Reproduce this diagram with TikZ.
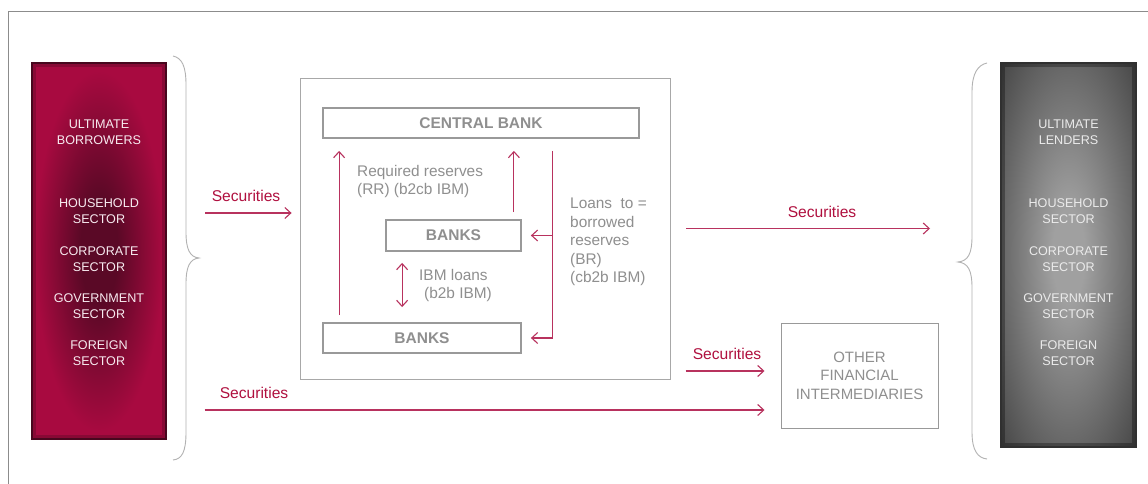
\documentclass[tikz,border=0pt]{standalone}
\usepackage{fontspec}
\setmainfont{Liberation Sans}
\usetikzlibrary{arrows.meta,calc}
\definecolor{crim}{HTML}{A80A40}
\definecolor{crimdark}{HTML}{5A0926}
\definecolor{arrowc}{HTML}{B8325E}
\definecolor{labc}{HTML}{B0103F}
\definecolor{txtgray}{HTML}{8F8F8F}
\definecolor{boxgray}{HTML}{999999}
\definecolor{frameg}{HTML}{8C8C8C}
\definecolor{dkg}{HTML}{454545}
\definecolor{ltg}{HTML}{A0A0A0}
\pgfdeclareradialshading{crimshade}{\pgfpoint{0bp}{0bp}}{color(0bp)=(crimdark); color(7bp)=(crimdark); color(24bp)=(crim); color(50bp)=(crim)}
\pgfdeclareradialshading{grayshade}{\pgfpoint{0bp}{0bp}}{color(0bp)=(ltg); color(6bp)=(ltg); color(36bp)=(dkg); color(50bp)=(dkg)}
\begin{document}
\begin{tikzpicture}[x=1pt,y=-1pt,
  arr/.style={draw=arrowc, line width=1.1pt, -{Straight Barb[length=6pt,width=11pt]}},
  darr/.style={draw=arrowc, line width=1.1pt, {Straight Barb[length=6pt,width=11pt]}-{Straight Barb[length=6pt,width=11pt]}},
  bankbox/.style={draw=boxgray, line width=1.8pt, fill=white, inner sep=0pt, font=\fontsize{15.5}{18}\selectfont\bfseries, text=txtgray},
  lab/.style={text=txtgray, font=\fontsize{15.4}{18.5}\selectfont, inner sep=0pt, align=left, anchor=north west},
  sec/.style={text=labc, font=\fontsize{15.6}{18}\selectfont, inner sep=0pt},
  sectxt/.style={align=center, font=\fontsize{12.6}{15.8}\selectfont, inner sep=0pt},
  brace/.style={draw=gray!60, line width=0.9pt},
  sidebox/.style={inner sep=0pt, line width=1.2pt}
]
\useasboundingbox (0,0) rectangle (1148,484);
\fill[white] (0,0) rectangle (1148,484);
% frame
\draw[frameg, line width=0.8pt] (8,484) -- (8,11.5) -- (1148,11.5);

% left box
\node[sidebox, shade, shading=crimshade, draw=crimdark!80!black, minimum width=134pt, minimum height=376pt] (borrow) at (99,251) {};
\draw[crimdark, opacity=0.4, line width=2.5pt] ($(borrow.north west)+(3,3)$) rectangle ($(borrow.south east)+(-3,-3)$);
\begin{scope}[every node/.style={sectxt, text=white!92!crim}]
\node (b1) at (99,132) {ULTIMATE\\BORROWERS};
\node (b2) at (99,211) {HOUSEHOLD\\SECTOR};
\node (b3) at (99,259) {CORPORATE\\SECTOR};
\node (b4) at (99,306) {GOVERNMENT\\SECTOR};
\node (b5) at (99,353) {FOREIGN\\SECTOR};
\end{scope}

% right box
\node[sidebox, shade, shading=grayshade, draw=dkg!70!black, minimum width=135pt, minimum height=384pt] (lend) at (1068.5,255) {};
\draw[black, opacity=0.3, line width=2.5pt] ($(lend.north west)+(3,3)$) rectangle ($(lend.south east)+(-3,-3)$);
\begin{scope}[every node/.style={sectxt, text=white!92!black}]
\node (l1) at (1068.5,132) {ULTIMATE\\LENDERS};
\node (l2) at (1068.5,211) {HOUSEHOLD\\SECTOR};
\node (l3) at (1068.5,259) {CORPORATE\\SECTOR};
\node (l4) at (1068.5,306) {GOVERNMENT\\SECTOR};
\node (l5) at (1068.5,353) {FOREIGN\\SECTOR};
\end{scope}

% braces
\draw[brace] (173,56) .. controls (182,58) and (186,66) .. (186,85) -- (186,232) .. controls (186,250) and (190,257) .. (199,258) .. controls (190,259) and (186,266) .. (186,284) -- (186,432) .. controls (186,452) and (182,459) .. (173,460);
\draw[brace] (987,63) .. controls (978,65) and (972,73) .. (972,92) -- (972,236) .. controls (972,254) and (968,261) .. (958,262) .. controls (968,263) and (972,270) .. (972,288) -- (972,432) .. controls (972,451) and (978,458) .. (987,459);

% banking system
\node[draw=boxgray!85, line width=0.8pt, minimum width=370pt, minimum height=301pt, inner sep=0pt] (sys) at (485,228.5) {};
\node[bankbox, minimum width=316pt, minimum height=30pt] (cb) at (481,123) {CENTRAL BANK};
\node[bankbox, minimum width=135pt, minimum height=31pt] (banks1) at (453.5,235.5) {BANKS};
\node[bankbox, minimum width=198pt, minimum height=30pt] (banks2) at (422,338) {BANKS};

\coordinate (u0) at ($(banks2.north west)+(17,-7)$);
\draw[arr] (u0) -- ($(u0 |- cb.south)+(0,12)$);
\coordinate (u1) at ($(banks1.north east)+(-8,-7)$);
\draw[arr] (u1) -- ($(u1 |- cb.south)+(0,12)$);
\coordinate (d1) at ($(banks1.south west)+(17,11)$);
\draw[darr] (d1) -- ($(d1 |- banks2.north)+(0,-15)$);
\coordinate (lt) at ($(cb.south west)+(230,12)$);
\draw[arr] (lt) |- ($(banks2.east)+(9,0)$);
\draw[arr] (lt |- banks1.east) -- ($(banks1.east)+(9,0)$);

\node[lab] (rr) at (357,165) {Required reserves\\(RR) (b2cb IBM)};
\node[lab] (ibm) at (419,269) {IBM loans\\\hspace*{5pt}(b2b IBM)};
\node[lab] (loans) at (570,198) {Loans\ \ to =\\borrowed\\reserves\\(BR)\\(cb2b IBM)};

% other financial intermediaries
\node[draw=boxgray, line width=1pt, minimum width=157pt, minimum height=105pt, align=center, text=txtgray, font=\fontsize{15}{18.5}\selectfont, inner sep=0pt] (ofi) at (859.5,375.5) {OTHER\\FINANCIAL\\INTERMEDIARIES};

% securities flows
\coordinate (s1) at (205,213);
\draw[arr] (s1) -- ($(s1 -| sys.west)+(-8,0)$);
\node[sec] (sec1) at (246,196) {Securities};
\coordinate (s2) at ($(sys.east)+(16,0)$);
\coordinate (lendin) at (930,228.5);
\draw[arr] (s2) -- (lendin);
\node[sec] (sec2) at (822,212) {Securities};
\draw[arr] ($(ofi.west)+(-95,-4.5)$) -- ($(ofi.west)+(-16,-4.5)$);
\node[sec] (sec3) at (727,354) {Securities};
\draw[arr] ($(ofi.west)+(-576,34.5)$) -- ($(ofi.west)+(-16,34.5)$);
\node[sec] (sec4) at (254,393) {Securities};
\end{tikzpicture}
\end{document}
